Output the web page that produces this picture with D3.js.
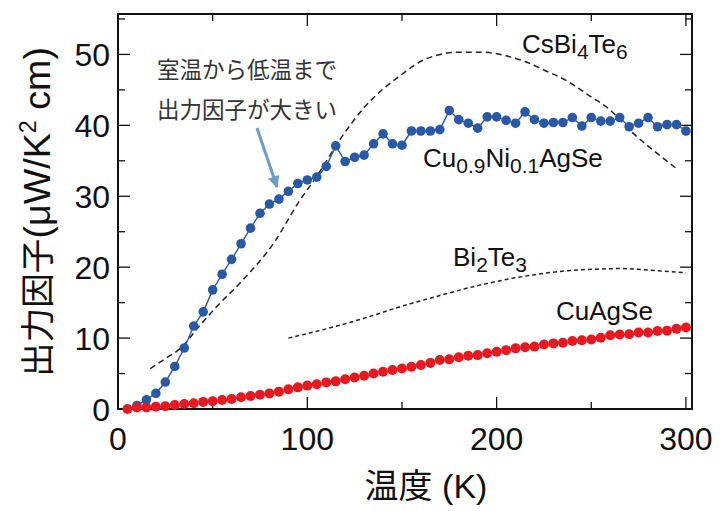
<!DOCTYPE html>
<html>
<head>
<meta charset="utf-8">
<script src="https://cdn.jsdelivr.net/npm/d3@7"></script>
<style>
  html, body { margin: 0; padding: 0; background: #fff; }
  svg { display: block; font-family: "Liberation Sans", Arial, sans-serif; }
</style>
</head>
<body>
<svg id="chart" width="720" height="511"></svg>
<script>
// ── Data ──────────────────────────────────────────────────────────────────────
const cuAgSeTemps = [5, 10, 15, 20, 25, 30, 35, 40, 45, 50, 55, 60, 65, 70, 75, 80, 85, 90, 95, 100,
  105, 110, 115, 120, 125, 130, 135, 140, 145, 150, 155, 160, 165, 170, 175, 180, 185, 190, 195, 200,
  205, 210, 215, 220, 225, 230, 235, 240, 245, 250, 255, 260, 265, 270, 275, 280, 285, 290, 295, 300];
const cuAgSeValues = [0.0, 0.2, 0.2, 0.33, 0.4, 0.56, 0.7, 0.8, 1.0, 1.1, 1.27, 1.4, 1.65, 1.83, 2.0, 2.2, 2.45, 2.77, 3.05, 3.3,
  3.5, 3.75, 3.9, 4.2, 4.45, 4.7, 5.0, 5.25, 5.5, 5.7, 5.95, 6.2, 6.5, 6.9, 7.0, 7.3, 7.5, 7.6, 7.85, 8.07,
  8.3, 8.55, 8.7, 8.8, 9.1, 9.25, 9.35, 9.6, 9.7, 9.8, 10.05, 10.4, 10.5, 10.55, 10.8, 10.8, 11.0, 11.05, 11.3, 11.5];

const niTemps = [10, 15, 20, 25, 30, 35, 40, 45, 50, 55, 60, 65, 70, 75, 80, 85, 90, 95, 100,
  105, 110, 115, 120, 125, 130, 135, 140, 145, 150, 155, 160, 165, 170, 175, 180, 185, 190, 195, 200,
  205, 210, 215, 220, 225, 230, 235, 240, 245, 250, 255, 260, 265, 270, 275, 280, 285, 290, 295, 300];
const niValues = [0.5, 1.3, 2.2, 3.8, 6.0, 8.6, 11.7, 13.7, 16.8, 19.0, 21.1, 23.3, 25.5, 27.6, 28.9, 29.6, 30.7, 31.8, 32.3,
  32.7, 34.2, 37.1, 34.9, 35.5, 35.8, 37.4, 38.8, 37.4, 37.2, 39.2, 39.2, 39.2, 39.4, 42.1, 40.8, 40.3, 39.6, 41.2, 41.2,
  40.7, 40.3, 41.9, 40.8, 40.3, 40.4, 40.4, 41.1, 39.9, 41.1, 40.6, 40.6, 41.1, 39.8, 40.3, 41.1, 39.8, 40.1, 40.1, 39.2];

const csBiTemps  = [17, 25, 34, 42, 52, 66, 82, 96, 105, 117, 130, 149, 163, 180, 193, 205, 215, 225, 237, 250, 258, 272, 285, 296];
const csBiValues = [5.7, 7.1, 8.8, 11.4, 14.4, 18.2, 23.3, 29.4, 32.8, 37.9, 42.5, 47.0, 49.4, 50.3, 50.3, 49.8, 49.0, 47.8, 46.3, 44.0, 42.6, 38.9, 36.0, 33.7];

const bi2Te3Temps  = [90, 110, 130, 150, 170, 190, 210, 230, 250, 265, 280, 300];
const bi2Te3Values = [10.0, 11.3, 12.8, 14.5, 16.0, 17.4, 18.5, 19.3, 19.7, 19.8, 19.6, 19.2];

const xMajorTicks = [0, 100, 200, 300];
const xMinorTicks = [50, 150, 250];
const yMajorTicks = [0, 10, 20, 30, 40, 50];
const yMinorTicks = [5, 15, 25, 35, 45, 55];

(function () {
  'use strict';

  const left = 118, right = 692, top = 14, bottom = 409;
  const blue = '#2958a6', red = '#e5191f', ink = '#111';
  const jpFont = '"Liberation Sans", "Noto Sans CJK JP", sans-serif';

  const x = d3.scaleLinear().domain([0, 303.2]).range([left, right]);
  const y = d3.scaleLinear().domain([0, 55.7]).range([bottom, top]);

  const svg = d3.select('#chart');
  const zip = (ts, vs) => ts.map((t, i) => ({ t, v: vs[i] }));

  // ── Frame and inward ticks on all four sides ────────────────────────────────
  const axes = svg.append('g').attr('stroke', ink).attr('stroke-width', 1.3);
  const tickLen = { major: 12, minor: 7 };
  [[xMajorTicks, tickLen.major], [xMinorTicks, tickLen.minor]].forEach(([ticks, len]) => {
    ticks.forEach(t => {
      axes.append('line').attr('x1', x(t)).attr('x2', x(t)).attr('y1', bottom).attr('y2', bottom - len);
      axes.append('line').attr('x1', x(t)).attr('x2', x(t)).attr('y1', top).attr('y2', top + len);
    });
  });
  [[yMajorTicks, tickLen.major], [yMinorTicks, tickLen.minor]].forEach(([ticks, len]) => {
    ticks.forEach(t => {
      axes.append('line').attr('x1', left).attr('x2', left + len).attr('y1', y(t)).attr('y2', y(t));
      axes.append('line').attr('x1', right).attr('x2', right - len).attr('y1', y(t)).attr('y2', y(t));
    });
  });
  svg.append('rect')
    .attr('x', left).attr('y', top).attr('width', right - left).attr('height', bottom - top)
    .attr('fill', 'none').attr('stroke', ink).attr('stroke-width', 2);

  // Tick labels
  svg.append('g').selectAll('text').data(xMajorTicks).join('text')
    .attr('x', d => x(d)).attr('y', 450)
    .attr('text-anchor', 'middle').attr('font-size', 32).attr('fill', ink)
    .text(d => d);
  svg.append('g').selectAll('text').data(yMajorTicks).join('text')
    .attr('x', 110).attr('y', d => y(d) + 11.5)
    .attr('text-anchor', 'end').attr('font-size', 32).attr('fill', ink)
    .text(d => d);

  // Axis titles
  svg.append('text')
    .attr('x', 426).attr('y', 498)
    .attr('text-anchor', 'middle').attr('font-size', 34).attr('fill', ink)
    .attr('font-family', jpFont)
    .text('温度 (K)');

  // y title: sized so it runs from y≈47 to y≈377 like the original
  const yTitle = svg.append('text')
    .attr('transform', 'translate(50,212) rotate(-90)')
    .attr('text-anchor', 'middle').attr('fill', ink)
    .attr('font-family', jpFont);
  const yParts = [
    { s: '出力因子', f: 34, dy: 0 },
    { s: '(μW/K', f: 37, dy: 0 },
    { s: '2', f: 23, dy: -14 },
    { s: ' cm)', f: 37, dy: 14 },
  ];
  const yTspans = yParts.map(p => yTitle.append('tspan').attr('font-size', p.f).attr('dy', p.dy).text(p.s));
  const yLen = yTitle.node().getComputedTextLength();
  const k = yLen > 0 ? 330 / yLen : 1;
  yTspans.forEach((ts, i) => ts.attr('font-size', yParts[i].f * k).attr('dy', yParts[i].dy * k));

  // ── Reference curves ────────────────────────────────────────────────────────
  const line = d3.line().x(d => x(d.t)).y(d => y(d.v)).curve(d3.curveMonotoneX);

  svg.append('path')
    .datum(zip(csBiTemps, csBiValues))
    .attr('fill', 'none').attr('stroke', '#222').attr('stroke-width', 1.5)
    .attr('stroke-dasharray', '6,4')
    .attr('d', line);

  svg.append('path')
    .datum(zip(bi2Te3Temps, bi2Te3Values))
    .attr('fill', 'none').attr('stroke', '#222').attr('stroke-width', 1.5)
    .attr('stroke-dasharray', '4,3')
    .attr('d', line);

  // ── Measured series ─────────────────────────────────────────────────────────
  const niData = zip(niTemps, niValues);
  svg.append('path')
    .datum(niData)
    .attr('fill', 'none').attr('stroke', blue).attr('stroke-width', 1.4)
    .attr('d', d3.line().x(d => x(d.t)).y(d => y(d.v)));
  svg.append('g').selectAll('circle').data(niData).join('circle')
    .attr('cx', d => x(d.t)).attr('cy', d => y(d.v)).attr('r', 4.8)
    .attr('fill', blue);

  svg.append('g').selectAll('circle').data(zip(cuAgSeTemps, cuAgSeValues)).join('circle')
    .attr('cx', d => x(d.t)).attr('cy', d => y(d.v)).attr('r', 5)
    .attr('fill', red);

  // ── Series labels (with subscripts) ─────────────────────────────────────────
  function label(xp, yp, parts) {
    const t = svg.append('text').attr('x', xp).attr('y', yp)
      .attr('font-size', 26).attr('fill', ink);
    let shifted = false;
    parts.forEach(p => {
      const sub = typeof p !== 'string';
      const ts = t.append('tspan').text(sub ? p.sub : p);
      if (sub) {
        ts.attr('font-size', 21);
        if (!shifted) { ts.attr('dy', 6); shifted = true; }
      } else if (shifted) {
        ts.attr('dy', -6); shifted = false;
      }
    });
  }
  label(522, 53, ['CsBi', { sub: '4' }, 'Te', { sub: '6' }]);
  label(423, 167, ['Cu', { sub: '0.9' }, 'Ni', { sub: '0.1' }, 'AgSe']);
  label(453, 266, ['Bi', { sub: '2' }, 'Te', { sub: '3' }]);
  label(556, 320, ['CuAgSe']);

  // ── Annotation ──────────────────────────────────────────────────────────────
  svg.append('text')
    .attr('x', 157).attr('y', 78)
    .attr('font-size', 22.5).attr('fill', '#333').attr('font-family', jpFont)
    .text('室温から低温まで');
  svg.append('text')
    .attr('x', 157).attr('y', 118)
    .attr('font-size', 22.5).attr('fill', '#333').attr('font-family', jpFont)
    .text('出力因子が大きい');

  svg.append('defs').append('marker')
    .attr('id', 'arrow').attr('viewBox', '0 0 10 10')
    .attr('refX', 9).attr('refY', 5)
    .attr('markerWidth', 4).attr('markerHeight', 4)
    .attr('orient', 'auto')
    .append('path').attr('d', 'M0,0 L10,5 L0,10 Z').attr('fill', '#6d9cc8');
  svg.append('line')
    .attr('x1', 257).attr('y1', 128).attr('x2', 277).attr('y2', 187)
    .attr('stroke', '#6d9cc8').attr('stroke-width', 3)
    .attr('marker-end', 'url(#arrow)');
})();
</script>
</body>
</html>
